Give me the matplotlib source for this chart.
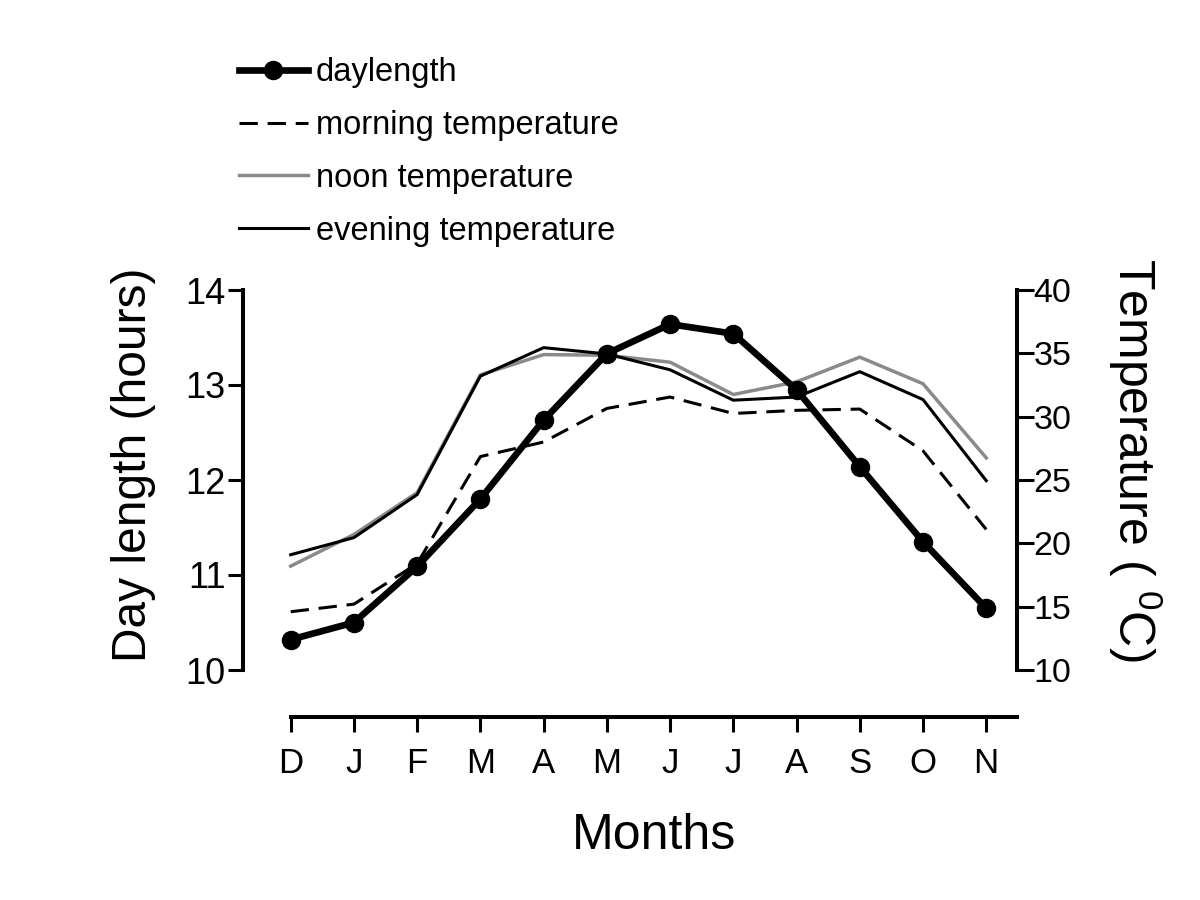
import matplotlib
matplotlib.use("Agg")
import matplotlib.pyplot as plt
import numpy as np

plt.rcParams['font.family'] = ['Liberation Sans', 'DejaVu Sans']
plt.rcParams['mathtext.fontset'] = 'custom'
plt.rcParams['mathtext.rm'] = 'Liberation Sans'
plt.rcParams['mathtext.it'] = 'Liberation Sans'

months = ['D', 'J', 'F', 'M', 'A', 'M', 'J', 'J', 'A', 'S', 'O', 'N']
daylength = [10.32, 10.50, 11.09, 11.80, 12.63, 13.33, 13.64, 13.54, 12.95, 12.14, 11.35, 10.65]
morning_temp = [14.6, 15.2, 18.4, 26.85, 28.0, 30.65, 31.55, 30.25, 30.5, 30.6, 27.3, 21.1]
noon_temp = [18.2, 20.7, 24.0, 33.3, 34.9, 34.85, 34.3, 31.75, 32.75, 34.7, 32.6, 26.75]
evening_temp = [19.1, 20.45, 23.85, 33.2, 35.45, 34.95, 33.7, 31.3, 31.55, 33.55, 31.35, 24.95]

left_ticks = [10, 11, 12, 13, 14]
right_ticks = [10, 15, 20, 25, 30, 35, 40]

x = np.arange(len(months))

fig = plt.figure(figsize=(12, 9), dpi=100)
ax = fig.add_axes([243/1200, 1 - 670/900, (1017-243)/1200, (670-290)/900])
ax2 = ax.twinx()

# temperatures on right axis
l_morn, = ax2.plot(x, morning_temp, color='black', lw=2.2, ls=(0, (6, 3.2)), zorder=2)
l_noon, = ax2.plot(x, noon_temp, color='#8a8a8a', lw=2.5, zorder=2)
l_even, = ax2.plot(x, evening_temp, color='black', lw=2.2, zorder=3)
# daylength on left axis, drawn on top
ax.set_zorder(ax2.get_zorder() + 1)
ax.patch.set_visible(False)
l_day, = ax.plot(x, daylength, color='black', lw=4.8, marker='o', ms=13, zorder=5)

xmin = (243 - 290.7) / 63.23
xmax = (1017 - 290.7) / 63.23
ax.set_xlim(xmin, xmax)
ax.set_ylim(10, 14)
ax2.set_ylim(10, 40)

ax.set_xticks(x)
ax.set_xticklabels(months)
ax.set_yticks(left_ticks)
ax2.set_yticks(right_ticks)

sw = 2.9
for s in ['top', 'right']:
    ax.spines[s].set_visible(False)
for s in ['top', 'left', 'bottom']:
    ax2.spines[s].set_visible(False)
ax.spines['left'].set_linewidth(sw)
ax.spines['bottom'].set_linewidth(sw)
ax2.spines['right'].set_linewidth(sw)
ax.spines['bottom'].set_position(('outward', 33.5))
ax.spines['bottom'].set_bounds(0, xmax)

ax.tick_params(axis='y', direction='out', length=11, width=2.2, labelsize=26, pad=1.5)
ax.tick_params(axis='x', direction='out', length=11, width=2.2, labelsize=25, pad=11)
ax2.tick_params(axis='y', direction='out', length=12, width=2.2, labelsize=24.5, pad=0)

ax.set_xlabel('Months', fontsize=36)
ax.xaxis.set_label_coords((654 - 243) / (1017 - 243), -(836 - 670) / 380, transform=ax.transAxes)
ax.xaxis.label.set_va('center')
ax.set_ylabel('Day length (hours)', fontsize=34.5)
ax.yaxis.set_label_coords(-(243 - 133) / 774, (670 - 465) / 380, transform=ax.transAxes)
ax.yaxis.label.set_va('center')
ax2.set_ylabel(r'Temperature ( $^{0}$C)', fontsize=36, rotation=270)
ax2.yaxis.set_label_coords((1135 - 243) / 774, (670 - 460) / 380, transform=ax2.transAxes)
ax2.yaxis.label.set_va('center')

handles = [l_day, l_morn, l_noon, l_even]
labels = ['daylength', 'morning temperature', 'noon temperature', 'evening temperature']
fig.legend(handles, labels, loc='upper left', bbox_to_anchor=(226/1200, 1 - 44/900),
           frameon=False, fontsize=23.5, handlelength=2.1, handletextpad=0.25,
           labelspacing=0.67, borderaxespad=0)

fig.savefig('out.png', dpi=100)
